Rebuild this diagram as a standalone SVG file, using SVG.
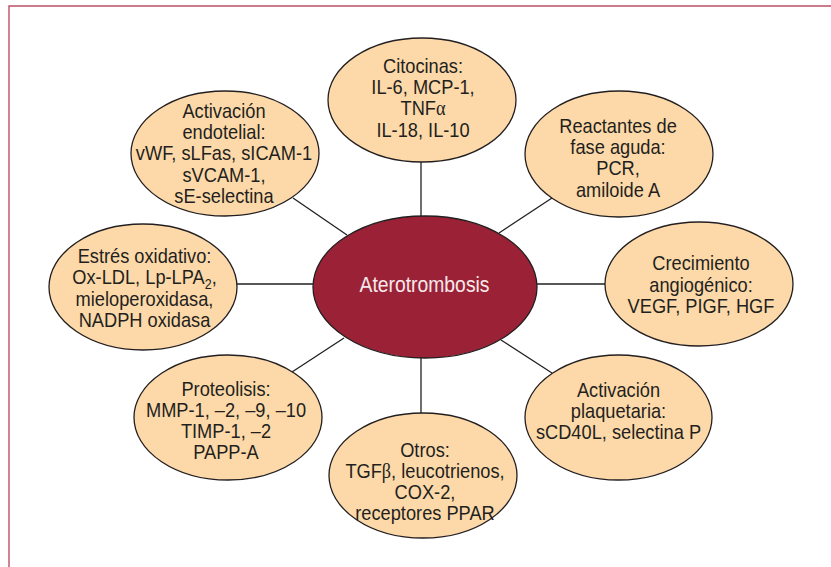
<svg xmlns="http://www.w3.org/2000/svg" width="831" height="567" viewBox="0 0 831 567">
<style>
.frame{fill:none;stroke:#bf4f68;stroke-width:1.4}
.node{fill:#fdd9a9;stroke:#231f20;stroke-width:1.3}
.core{fill:#9b2236;stroke:#231f20;stroke-width:1.3}
.conn line{stroke:#231f20;stroke-width:1.3}
.t{font-family:"Liberation Sans",Arial,sans-serif;font-size:20.5px;fill:#231f20;text-anchor:middle}
.c{font-family:"Liberation Sans",Arial,sans-serif;font-size:21.5px;fill:#f6e9ec;text-anchor:middle}
.g{font-family:"Liberation Serif","DejaVu Serif",serif}
</style>
<rect width="831" height="567" fill="#ffffff"/>
<polyline class="frame" points="9,567 9,6 831,6"/>
<g id="connectors" class="conn">
<line x1="421" y1="162" x2="421" y2="216"/>
<line x1="293" y1="198" x2="347" y2="235"/>
<line x1="552" y1="198" x2="499" y2="233"/>
<line x1="237" y1="284" x2="313" y2="284"/>
<line x1="537" y1="284" x2="605" y2="284"/>
<line x1="292" y1="372" x2="344" y2="338"/>
<line x1="421" y1="358" x2="421" y2="413"/>
<line x1="501" y1="340" x2="552" y2="373"/>
</g>
<g id="n-center">
<ellipse class="core" cx="425" cy="287" rx="112" ry="71"/>
<text class="c" transform="translate(424.5 0) scale(0.9 1)"><tspan x="0" y="292">Aterotrombosis</tspan></text>
</g>
<g id="n-citocinas">
<ellipse class="node" cx="422" cy="100" rx="94" ry="62"/>
<text class="t" transform="translate(423 0) scale(0.89 1)"><tspan x="0" y="72.7">Citocinas:</tspan><tspan x="0" y="94">IL-6, MCP-1,</tspan><tspan x="0" y="115.3">TNF<tspan class="g">α</tspan></tspan><tspan x="0" y="136.7">IL-18, IL-10</tspan></text>
</g>
<g id="n-endotelial">
<ellipse class="node" cx="225" cy="153.5" rx="94" ry="62.5"/>
<text class="t" transform="translate(224 0) scale(0.89 1)"><tspan x="0" y="118.3">Activación</tspan><tspan x="0" y="139.5">endotelial:</tspan><tspan x="0" y="160.5">vWF, sLFas, sICAM-1</tspan><tspan x="0" y="181.7">sVCAM-1,</tspan><tspan x="0" y="202.7">sE-selectina</tspan></text>
</g>
<g id="n-reactantes">
<ellipse class="node" cx="619" cy="154" rx="94" ry="63"/>
<text class="t" transform="translate(618 0) scale(0.89 1)"><tspan x="0" y="132.7">Reactantes de</tspan><tspan x="0" y="154">fase aguda:</tspan><tspan x="0" y="175.5">PCR,</tspan><tspan x="0" y="196.7">amiloide A</tspan></text>
</g>
<g id="n-estres">
<ellipse class="node" cx="143" cy="287" rx="94" ry="63"/>
<text class="t" transform="translate(144.5 0) scale(0.89 1)"><tspan x="0" y="263.3">Estrés oxidativo:</tspan><tspan x="0" y="284.3">Ox-LDL, Lp-LPA<tspan font-size="14" baseline-shift="-4">2</tspan>,</tspan><tspan x="0" y="305.7">mieloperoxidasa,</tspan><tspan x="0" y="327.3">NADPH oxidasa</tspan></text>
</g>
<g id="n-crecimiento">
<ellipse class="node" cx="699" cy="284" rx="94" ry="62"/>
<text class="t" transform="translate(701 0) scale(0.89 1)"><tspan x="0" y="270.5">Crecimiento</tspan><tspan x="0" y="292">angiogénico:</tspan><tspan x="0" y="313.3">VEGF, PIGF, HGF</tspan></text>
</g>
<g id="n-proteolisis">
<ellipse class="node" cx="228" cy="417.5" rx="94" ry="62.5"/>
<text class="t" transform="translate(226 0) scale(0.89 1)"><tspan x="0" y="396">Proteolisis:</tspan><tspan x="0" y="417.3">MMP-1, –2, –9, –10</tspan><tspan x="0" y="438.3">TIMP-1, –2</tspan><tspan x="0" y="459.3">PAPP-A</tspan></text>
</g>
<g id="n-otros">
<ellipse class="node" cx="423" cy="475.5" rx="94" ry="62.5"/>
<text class="t" transform="translate(425 0) scale(0.89 1)"><tspan x="0" y="456.7">Otros:</tspan><tspan x="0" y="478.3">TGF<tspan class="g">β</tspan>, leucotrienos,</tspan><tspan x="0" y="499">COX-2,</tspan><tspan x="0" y="520">receptores PPAR</tspan></text>
</g>
<g id="n-plaquetaria">
<ellipse class="node" cx="618.5" cy="417.5" rx="93.5" ry="62.5"/>
<text class="t" transform="translate(618.5 0) scale(0.89 1)"><tspan x="0" y="396.7">Activación</tspan><tspan x="0" y="418.3">plaquetaria:</tspan><tspan x="0" y="439.3">sCD40L, selectina P</tspan></text>
</g>
</svg>
